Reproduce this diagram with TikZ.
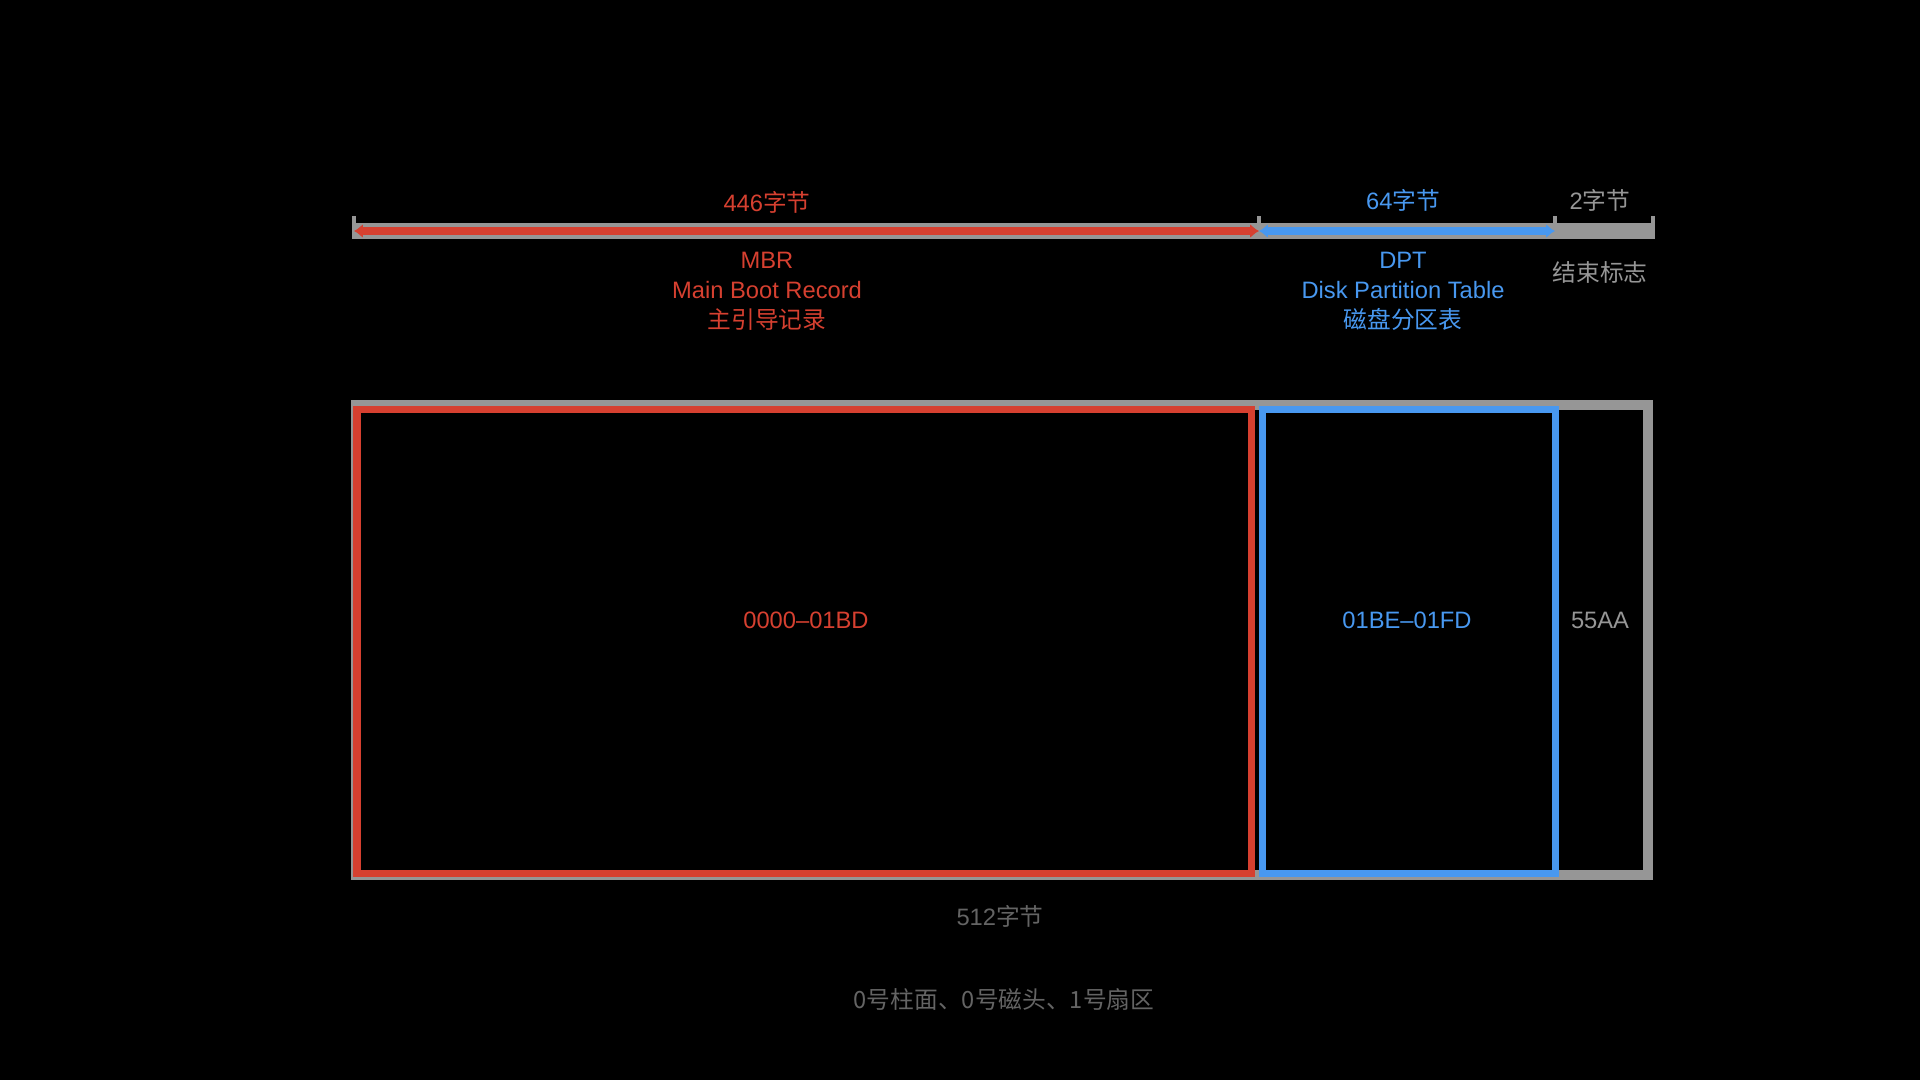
\documentclass[tikz,border=0pt]{standalone}
\usepackage{fontspec}
\setmainfont{Liberation Sans}
\newfontfamily\cjk{Noto Sans CJK SC}
\usetikzlibrary{arrows.meta}
\definecolor{mbrred}{RGB}{214,64,48}
\definecolor{dptblue}{RGB}{72,152,240}
\definecolor{siggray}{RGB}{150,150,150}
\definecolor{notegray}{RGB}{100,100,100}
\newcommand{\zh}[1]{{\cjk #1}}

\begin{document}
\begin{tikzpicture}[x=0.02cm,y=-0.02cm,
  lbl/.style={font=\fontsize{13.5}{17}\selectfont, align=center, inner sep=0pt},
  seg/.style={line width=4pt, {Latex[length=5pt,width=8pt]}-{Latex[length=5pt,width=8pt]}}]
\useasboundingbox (0,0) rectangle (1920,1080);
\fill[black] (0,0) rectangle (1920,1080);

% Byte ruler
\coordinate (r0) at (354,231);
\coordinate (r1) at (1259,231);
\coordinate (r2) at (1555,231);
\coordinate (r3) at (1653,231);
\draw[siggray, line width=9pt] (r0) -- (r3);
\foreach \x in {354,1259,1555,1653} {
    \draw[siggray, line width=2pt] (\x,216) -- (\x,239);
}
\draw[seg, mbrred] (r0) -- (r1);
\draw[seg, dptblue] (r1) -- (r2);

\node[lbl, mbrred] (mbrsize) at (767,202) {446\zh{字节}};
\node[lbl, dptblue] (dptsize) at (1403,200) {64\zh{字节}};
\node[lbl, siggray] (sigsize) at (1600,200) {2\zh{字节}};

\node[lbl, mbrred] (mbrname) at (767,291) {MBR\\Main Boot Record\\\zh{主引导记录}};
\node[lbl, dptblue] (dptname) at (1403,291) {DPT\\Disk Partition Table\\\zh{磁盘分区表}};
\node[lbl, siggray] (signame) at (1600,272) {\zh{结束标志}};

% Sector layout
\draw[siggray, line width=5.7pt] (356,405) rectangle (1648,875);
\draw[mbrred, line width=4pt] (357,409) rectangle (1251,873);
\draw[dptblue, line width=4pt] (1262,409) rectangle (1555,873);

\node[lbl, mbrred] (mbrrange) at (806,620) {0000--01BD};
\node[lbl, dptblue] (dptrange) at (1407,620) {01BE--01FD};
\node[lbl, siggray] (sigval) at (1600,620) {55AA};

\node[lbl, notegray] (total) at (1000,916) {512\zh{字节}};
\node[lbl, notegray] (where) at (1004,999) {\zh{0号柱面、0号磁头、1号扇区}};
\end{tikzpicture}
\end{document}
